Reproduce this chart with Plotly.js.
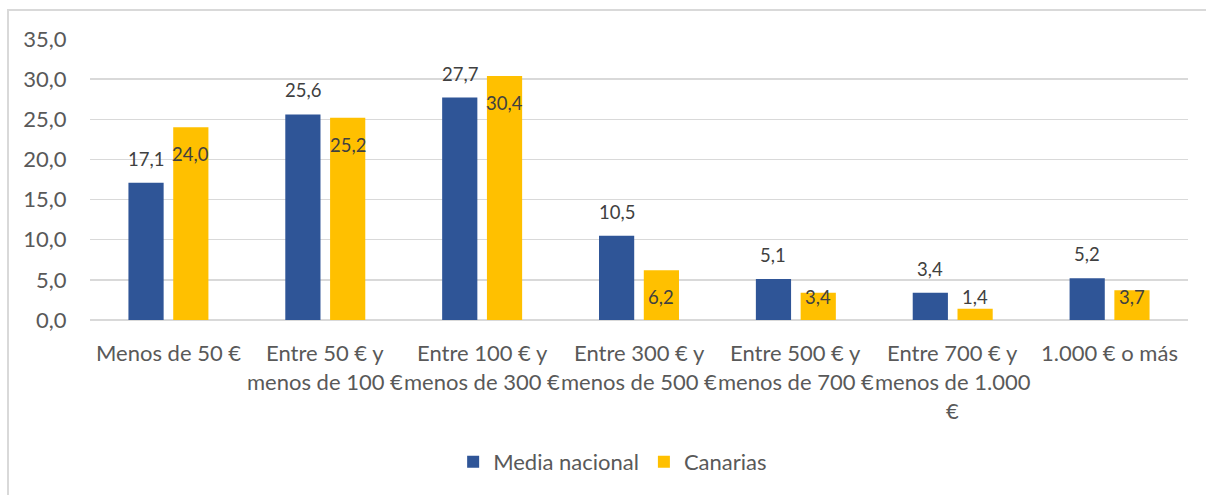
<!DOCTYPE html>
<html>
<head>
<meta charset="utf-8">
<script src="https://cdn.plot.ly/plotly-3.0.1.min.js"></script>
<style>
  html, body { margin: 0; padding: 0; background: #ffffff; }
  #wrap { position: relative; width: 1206px; height: 495px; overflow: hidden; }
  #chart { position: absolute; left: 0; top: 0; width: 1206px; height: 495px; }
  #frame { position: absolute; left: 7px; top: 9px; width: 1300px; height: 600px;
           border-left: 2px solid #d9d9d9; border-top: 2px solid #d9d9d9; pointer-events: none; }
</style>
</head>
<body>
<div id="wrap">
  <div id="chart"></div>
  <div id="frame"></div>
</div>
<script>
// ---- data ----
var categories = [
  'Menos de 50 €',
  'Entre 50 € y menos de 100 €',
  'Entre 100 € y menos de 300 €',
  'Entre 300 € y menos de 500 €',
  'Entre 500 € y menos de 700 €',
  'Entre 700 € y menos de 1.000 €',
  '1.000 € o más'
];
var tickLabels = [
  ['Menos de 50 €'],
  ['Entre 50 € y', 'menos de 100 €'],
  ['Entre 100 € y', 'menos de 300 €'],
  ['Entre 300 € y', 'menos de 500 €'],
  ['Entre 500 € y', 'menos de 700 €'],
  ['Entre 700 € y', 'menos de 1.000', '€'],
  ['1.000 € o más']
];
var mediaNacional = [17.1, 25.6, 27.7, 10.5, 5.1, 3.4, 5.2];
var canarias = [24.0, 25.2, 30.4, 6.2, 3.4, 1.4, 3.7];
var seriesNames = ['Media nacional', 'Canarias'];
var yTicks = [0, 5, 10, 15, 20, 25, 30, 35];

// ---- style ----
var FONT = 'Lato, "DejaVu Sans", sans-serif';
var BLUE = '#2F5597';
var GOLD = '#FFC000';
var AXIS_SIZE = 22, LABEL_SIZE = 18.5;
var W = 1206, H = 495;
var margin = {l: 90, r: 18, t: 39, b: 175};
var yMax = 35;
var plotH = H - margin.t - margin.b;
var ppu = plotH / yMax;

function fmt(v) { return v.toFixed(1).replace('.', ','); }

var annotations = [];
categories.forEach(function (c, i) {
  // data label, Media nacional (above the bar)
  annotations.push({
    x: c, y: mediaNacional[i], xref: 'x', yref: 'y',
    text: fmt(mediaNacional[i]), showarrow: false,
    xshift: -22.4, yshift: 24, yanchor: 'middle', xanchor: 'center',
    font: {family: FONT, size: LABEL_SIZE, color: '#404040'}
  });
  // data label, Canarias (inside the bar top, kept off the base)
  var v = canarias[i];
  var down = Math.min(27, v * ppu - 23);
  annotations.push({
    x: c, y: v, xref: 'x', yref: 'y',
    text: fmt(v), showarrow: false,
    xshift: 22.4, yshift: -down, yanchor: 'middle', xanchor: 'center',
    font: {family: FONT, size: LABEL_SIZE, color: '#404040'}
  });
  // category labels (one annotation per wrapped line)
  tickLabels[i].forEach(function (line, k) {
    annotations.push({
      x: c, y: 0, xref: 'x', yref: 'y',
      text: line, showarrow: false,
      yshift: -(32 + 29 * k), yanchor: 'middle', xanchor: 'center',
      font: {family: FONT, size: AXIS_SIZE, color: '#595959'}
    });
  });
});

var traces = [
  {type: 'bar', name: seriesNames[0], x: categories, y: mediaNacional,
   marker: {color: BLUE}, hoverinfo: 'skip'},
  {type: 'bar', name: seriesNames[1], x: categories, y: canarias,
   marker: {color: GOLD}, hoverinfo: 'skip'}
];

var layout = {
  width: W, height: H,
  margin: margin,
  paper_bgcolor: '#ffffff', plot_bgcolor: '#ffffff',
  separators: ',.',
  barmode: 'group', bargap: 0.429, bargroupgap: 0.214,
  font: {family: FONT, size: AXIS_SIZE, color: '#595959'},
  xaxis: {
    type: 'category', showticklabels: false, showgrid: false,
    showline: false, zeroline: false, ticks: ''
  },
  yaxis: {
    range: [0, yMax], tickvals: yTicks, tickformat: '.1f',
    showgrid: true, gridcolor: '#d9d9d9', gridwidth: 1.5,
    zeroline: true, zerolinecolor: '#d9d9d9', zerolinewidth: 1.5,
    showline: false, ticks: 'outside', ticklen: 18, tickcolor: 'rgba(0,0,0,0)',
    tickfont: {family: FONT, size: AXIS_SIZE, color: '#595959'}
  },
  showlegend: true,
  legend: {
    orientation: 'h', xref: 'container', yref: 'container',
    x: 0.508, xanchor: 'center', y: 0.067, yanchor: 'middle',
    font: {family: FONT, size: AXIS_SIZE, color: '#595959'},
    bgcolor: 'rgba(0,0,0,0)', traceorder: 'normal'
  },
  annotations: annotations
};

Plotly.newPlot('chart', traces, layout, {staticPlot: true, displayModeBar: false});
</script>
</body>
</html>
